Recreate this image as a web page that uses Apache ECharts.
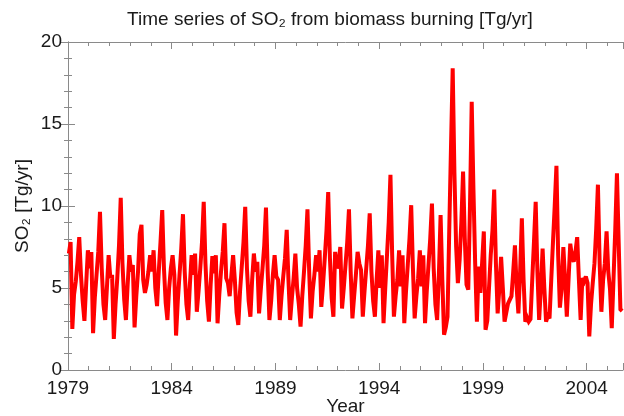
<!DOCTYPE html>
<html>
<head>
<meta charset="utf-8">
<script src="https://cdn.jsdelivr.net/npm/echarts@6/dist/echarts.min.js"></script>
<style>
  html, body { margin: 0; padding: 0; background: #fff; }
  #chart { width: 624px; height: 416px; }
</style>
</head>
<body>
<div id="chart"></div>
<script>
// monthly SO2 from biomass burning [Tg/yr]
const startYear = 1979;
const so2_1979_1983 = [
    7.1, 7.8, 2.5, 4.6, 5.4, 6.6, 8.1, 5.8, 4.2, 3.0, 5.2, 7.3,
    6.2, 7.2, 2.25, 4.4, 5.8, 7.2, 9.65, 6.2, 4.0, 3.05, 5.0, 7.0,
    5.6, 5.8, 1.9, 4.0, 5.6, 7.6, 10.5, 6.5, 4.3, 3.05, 5.2, 7.0,
    6.0, 6.4, 2.6, 4.5, 6.0, 8.3, 8.85, 5.5, 4.7, 5.2, 6.0, 7.0,
    6.0, 7.3, 5.0, 3.9, 6.0, 7.8, 9.75, 6.2, 4.1, 3.05, 5.0, 6.2
];
const so2_1984_1988 = [
    7.0, 5.8, 2.1, 4.2, 5.8, 7.4, 9.5, 6.0, 4.0, 3.05, 5.2, 7.0,
    5.8, 7.1, 3.55, 4.8, 6.2, 7.8, 10.25, 6.5, 4.2, 2.95, 5.2, 6.95,
    5.9, 7.0, 2.85, 4.6, 6.0, 7.2, 8.95, 5.6, 5.3, 4.5, 5.8, 7.0,
    5.5, 3.5, 2.75, 4.8, 6.3, 7.8, 9.95, 6.2, 4.2, 3.25, 5.5, 7.1,
    6.0, 6.6, 3.45, 4.9, 6.2, 7.6, 9.9, 6.0, 3.05, 4.2, 5.8, 7.0
];
const so2_1989_1993 = [
    5.7, 5.5, 3.05, 4.5, 5.7, 6.8, 8.55, 5.5, 3.05, 4.4, 5.6, 7.1,
    5.0, 4.0, 2.65, 4.5, 6.0, 7.6, 9.8, 6.0, 3.15, 4.8, 5.8, 7.0,
    6.0, 7.3, 3.85, 5.2, 6.8, 8.5, 10.85, 6.8, 4.4, 3.25, 7.2, 6.2,
    6.5, 7.5, 3.75, 5.0, 6.4, 7.8, 9.8, 6.0, 3.15, 4.5, 5.8, 7.2,
    6.5, 6.1, 3.25, 4.8, 6.2, 7.6, 9.55, 6.0, 4.2, 3.25, 5.5, 7.3
];
const so2_1994_1998 = [
    5.0, 7.0, 2.85, 5.0, 7.0, 9.0, 11.9, 7.0, 3.25, 4.5, 5.5, 7.3,
    5.1, 7.0, 2.85, 4.8, 6.4, 8.0, 10.05, 6.2, 3.15, 4.5, 5.6, 7.3,
    5.1, 7.0, 2.85, 4.8, 6.4, 8.0, 10.15, 6.2, 4.0, 3.05, 5.8, 9.45,
    5.5, 2.15, 2.6, 3.25, 8.5, 13.5, 18.4, 12.0, 7.5, 5.3, 6.7, 9.0,
    12.1, 8.0, 5.2, 4.9, 10.0, 16.35, 11.0, 6.5, 2.95, 6.3, 4.7, 6.5
];
const so2_1999_2005 = [
    8.45, 2.45, 3.0, 5.0, 7.0, 8.5, 11.0, 6.5, 3.45, 5.0, 6.9, 5.0,
    2.95, 3.5, 4.05, 4.05, 4.5, 6.0, 7.6, 5.0, 3.45, 6.0, 9.25, 5.5,
    2.95, 3.2, 2.95, 3.1, 5.5, 7.8, 10.25, 6.0, 3.05, 5.0, 7.4, 5.0,
    2.95, 3.3, 3.15, 5.5, 7.8, 10.0, 12.45, 7.0, 3.8, 5.0, 7.5, 5.5,
    3.25, 5.5, 7.7, 6.9, 6.6, 7.2, 8.1, 5.5, 3.05, 5.6, 5.4, 5.7,
    5.3, 2.05, 4.0, 5.3, 6.5, 8.6, 11.3, 6.5, 3.55, 5.5, 6.5, 8.45,
    6.0, 4.9, 2.55, 5.5, 8.5, 12.0, 7.8, 3.7, 3.6
];
const yearSpan = 26.75;          // axis runs 1979 .. 2005.75
const yTicks = [0, 5, 10, 15, 20];

const so2 = [].concat(so2_1979_1983, so2_1984_1988, so2_1989_1993, so2_1994_1998, so2_1999_2005);
// month i sits in the middle of its month, in years since 1979
const seriesData = so2.map((v, i) => [(i + 0.5) / 12, v]);

const font = 'Liberation Sans';
const axisGray = '#8a8a8a';
const textColor = '#1a1a1a';

function xAxisCfg(pos, interval, tickLen, withLabels) {
    return {
        type: 'value',
        position: pos,
        min: 0,
        max: yearSpan,
        interval: interval,
        axisLine: { show: withLabels || interval === 5, onZero: false, lineStyle: { color: axisGray, width: 1 } },
        axisTick: { show: true, inside: true, length: tickLen, lineStyle: { color: axisGray } },
        axisLabel: {
            show: withLabels,
            margin: 9,
            fontFamily: font,
            fontSize: 19,
            color: textColor,
            formatter: v => (v % 5 === 0 ? String(startYear + v) : '')
        },
        splitLine: { show: false }
    };
}

const chart = echarts.init(document.getElementById('chart'), null, { renderer: 'canvas' });
chart.setOption({
    animation: false,
    backgroundColor: '#ffffff',
    title: {
        text: 'Time series of SO₂ from biomass burning [Tg/yr]',
        left: 325,
        top: 5,
        textAlign: 'center',
        textStyle: { fontFamily: font, fontSize: 19, fontWeight: 'normal', color: textColor }
    },
    grid: { left: 68, right: 1, top: 42, bottom: 46, outerBoundsMode: 'none' },
    xAxis: [
        Object.assign(xAxisCfg('bottom', 5, 7, true), {
            name: 'Year',
            nameLocation: 'middle',
            nameGap: 27,
            nameMoveOverlap: false,
            nameTextStyle: { fontFamily: font, fontSize: 19, color: textColor }
        }),
        xAxisCfg('bottom', 1, 4, false),
        xAxisCfg('top', 5, 7, false),
        xAxisCfg('top', 1, 4, false)
    ],
    yAxis: [
        {
            type: 'value',
            position: 'left',
            min: yTicks[0],
            max: yTicks[yTicks.length - 1],
            interval: yTicks[1] - yTicks[0],
            name: 'SO₂ [Tg/yr]',
            nameLocation: 'middle',
            nameGap: 36,
            nameMoveOverlap: false,
            nameTextStyle: { fontFamily: font, fontSize: 19, color: textColor },
            axisLine: { show: true, lineStyle: { color: axisGray } },
            axisTick: { show: true, inside: true, length: 7, lineStyle: { color: axisGray } },
            minorTick: { show: true, splitNumber: 5, length: 4, lineStyle: { color: axisGray } },
            axisLabel: { margin: 6, fontFamily: font, fontSize: 19, color: textColor },
            splitLine: { show: false }
        },
        {
            type: 'value',
            position: 'right',
            min: yTicks[0],
            max: yTicks[yTicks.length - 1],
            interval: yTicks[1] - yTicks[0],
            axisLine: { show: true, lineStyle: { color: axisGray } },
            axisTick: { show: true, inside: true, length: 7, lineStyle: { color: axisGray } },
            minorTick: { show: true, splitNumber: 5, length: 4, lineStyle: { color: axisGray } },
            axisLabel: { show: false },
            splitLine: { show: false }
        }
    ],
    series: [
        {
            name: 'SO2',
            type: 'line',
            xAxisIndex: 0,
            yAxisIndex: 0,
            data: seriesData,
            showSymbol: false,
            clip: true,
            lineStyle: { color: '#ff0000', width: 4, join: 'miter', miterLimit: 3 }
        }
    ]
});
</script>
</body>
</html>
